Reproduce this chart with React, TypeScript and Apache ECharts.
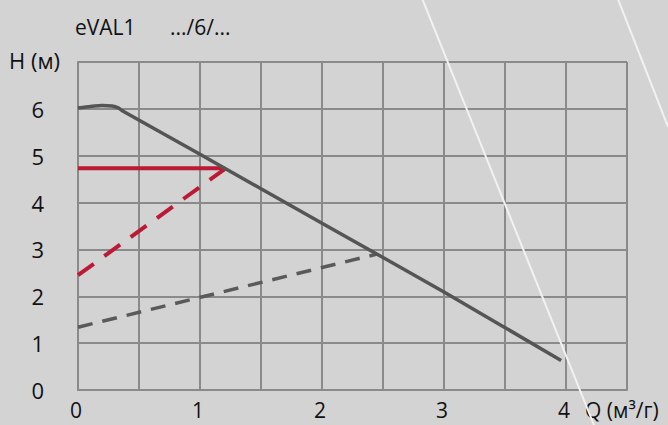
import React, { useEffect, useRef } from "react";
import * as echarts from "echarts";

const titleModel = "eVAL1";
const titleCode = ".../6/...";
const yAxisTitle = "H (м)";
const xAxisTitle = "Q (м³/г)";

const xTickLabels = ["0", "1", "2", "3", "4"];
const yTickLabels = ["0", "1", "2", "3", "4", "5", "6"];

const pumpQ = [0, 0.1, 0.2, 0.28, 0.33, 0.37, 1, 2, 3, 3.96];
const pumpH = [6.02, 6.05, 6.07, 6.06, 6.02, 5.95, 5.03, 3.56, 2.09, 0.63];

const dutyQ = [0, 1.205];
const dutyH = [4.73, 4.73];

const redSystemQ = [0, 1.205];
const redSystemH = [2.45, 4.72];

const graySystemQ = [0, 2.45];
const graySystemH = [1.34, 2.9];

const zip = (a: number[], b: number[]) => a.map((v, i) => [v, b[i]]);

export default function App() {
  const ref = useRef<HTMLDivElement>(null);
  useEffect(() => {
    if (!ref.current) return;
    const chart = echarts.init(ref.current, undefined, { renderer: "svg" });
    const font = "'Open Sans', 'Noto Sans', sans-serif";
    const gridColor = "#8a8a8a";
    chart.setOption({
      animation: false,
      backgroundColor: "#d3d3d3",
      textStyle: { fontFamily: font },
      grid: {
        left: 78,
        top: 62,
        right: 41,
        bottom: 35,
        containLabel: false,
        outerBoundsMode: "none",
      },
      xAxis: {
        type: "value",
        min: 0,
        max: 4.5,
        interval: 0.5,
        axisLine: { show: true, lineStyle: { color: gridColor, width: 2 } },
        axisTick: { show: false },
        splitLine: { show: true, lineStyle: { color: gridColor, width: 2 } },
        axisLabel: {
          margin: 9,
          fontSize: 21,
          lineHeight: 21,
          padding: [0, 4, 0, 0],
          color: "#111",
          fontFamily: font,
          formatter: (v: number) =>
            Number.isInteger(v) && v < xTickLabels.length ? xTickLabels[v] : "",
        },
      },
      yAxis: {
        type: "value",
        min: 0,
        max: 7,
        interval: 1,
        axisLine: { show: true, lineStyle: { color: gridColor, width: 2 } },
        axisTick: { show: false },
        splitLine: { show: true, lineStyle: { color: gridColor, width: 2 } },
        axisLabel: {
          margin: 34,
          fontSize: 22,
          lineHeight: 22,
          color: "#111",
          fontFamily: font,
          padding: [0, 0, 4, 0],
          formatter: (v: number) =>
            Number.isInteger(v) && v < yTickLabels.length ? yTickLabels[v] : "",
        },
      },
      graphic: [
        {
          type: "line",
          z: 1,
          silent: true,
          shape: { x1: 422.7, y1: 0, x2: 594, y2: 425 },
          style: { stroke: "#f2f2f2", lineWidth: 2 },
        },
        {
          type: "line",
          z: 1,
          silent: true,
          shape: { x1: 618.3, y1: 0, x2: 668, y2: 126.7 },
          style: { stroke: "#f2f2f2", lineWidth: 2 },
        },
        {
          type: "text",
          left: 75,
          top: 16,
          style: { text: titleModel, fontSize: 21, fontFamily: font, fill: "#111" },
        },
        {
          type: "text",
          left: 170,
          top: 16,
          style: { text: titleCode, fontSize: 21, fontFamily: font, fill: "#111" },
        },
        {
          type: "text",
          left: 9,
          top: 49,
          style: { text: yAxisTitle, fontSize: 22, fontFamily: font, fill: "#111" },
        },
        {
          type: "text",
          left: 585,
          top: 399,
          style: {
            text: xAxisTitle,
            fontSize: 21,
            lineHeight: 21,
            fontFamily: font,
            fill: "#111",
          },
        },
      ],
      series: [
        {
          type: "line",
          data: zip(graySystemQ, graySystemH),
          symbol: "none",
          lineStyle: { color: "#5a5a5a", width: 3.5, type: [15, 10], cap: "butt" },
          z: 3,
        },
        {
          type: "line",
          data: zip(redSystemQ, redSystemH),
          symbol: "none",
          lineStyle: { color: "#bb1a34", width: 4, type: [19.5, 13], cap: "butt" },
          z: 3,
        },
        {
          type: "line",
          data: zip(dutyQ, dutyH),
          symbol: "none",
          lineStyle: { color: "#bb1a34", width: 4 },
          z: 3,
        },
        {
          type: "line",
          data: zip(pumpQ, pumpH),
          symbol: "none",
          smooth: 0.2,
          lineStyle: { color: "#555555", width: 3.5 },
          z: 4,
        },
      ],
    });
    return () => chart.dispose();
  }, []);
  return (
    <div
      ref={ref}
      style={{ position: "fixed", left: 0, top: 0, width: 668, height: 425 }}
    />
  );
}
